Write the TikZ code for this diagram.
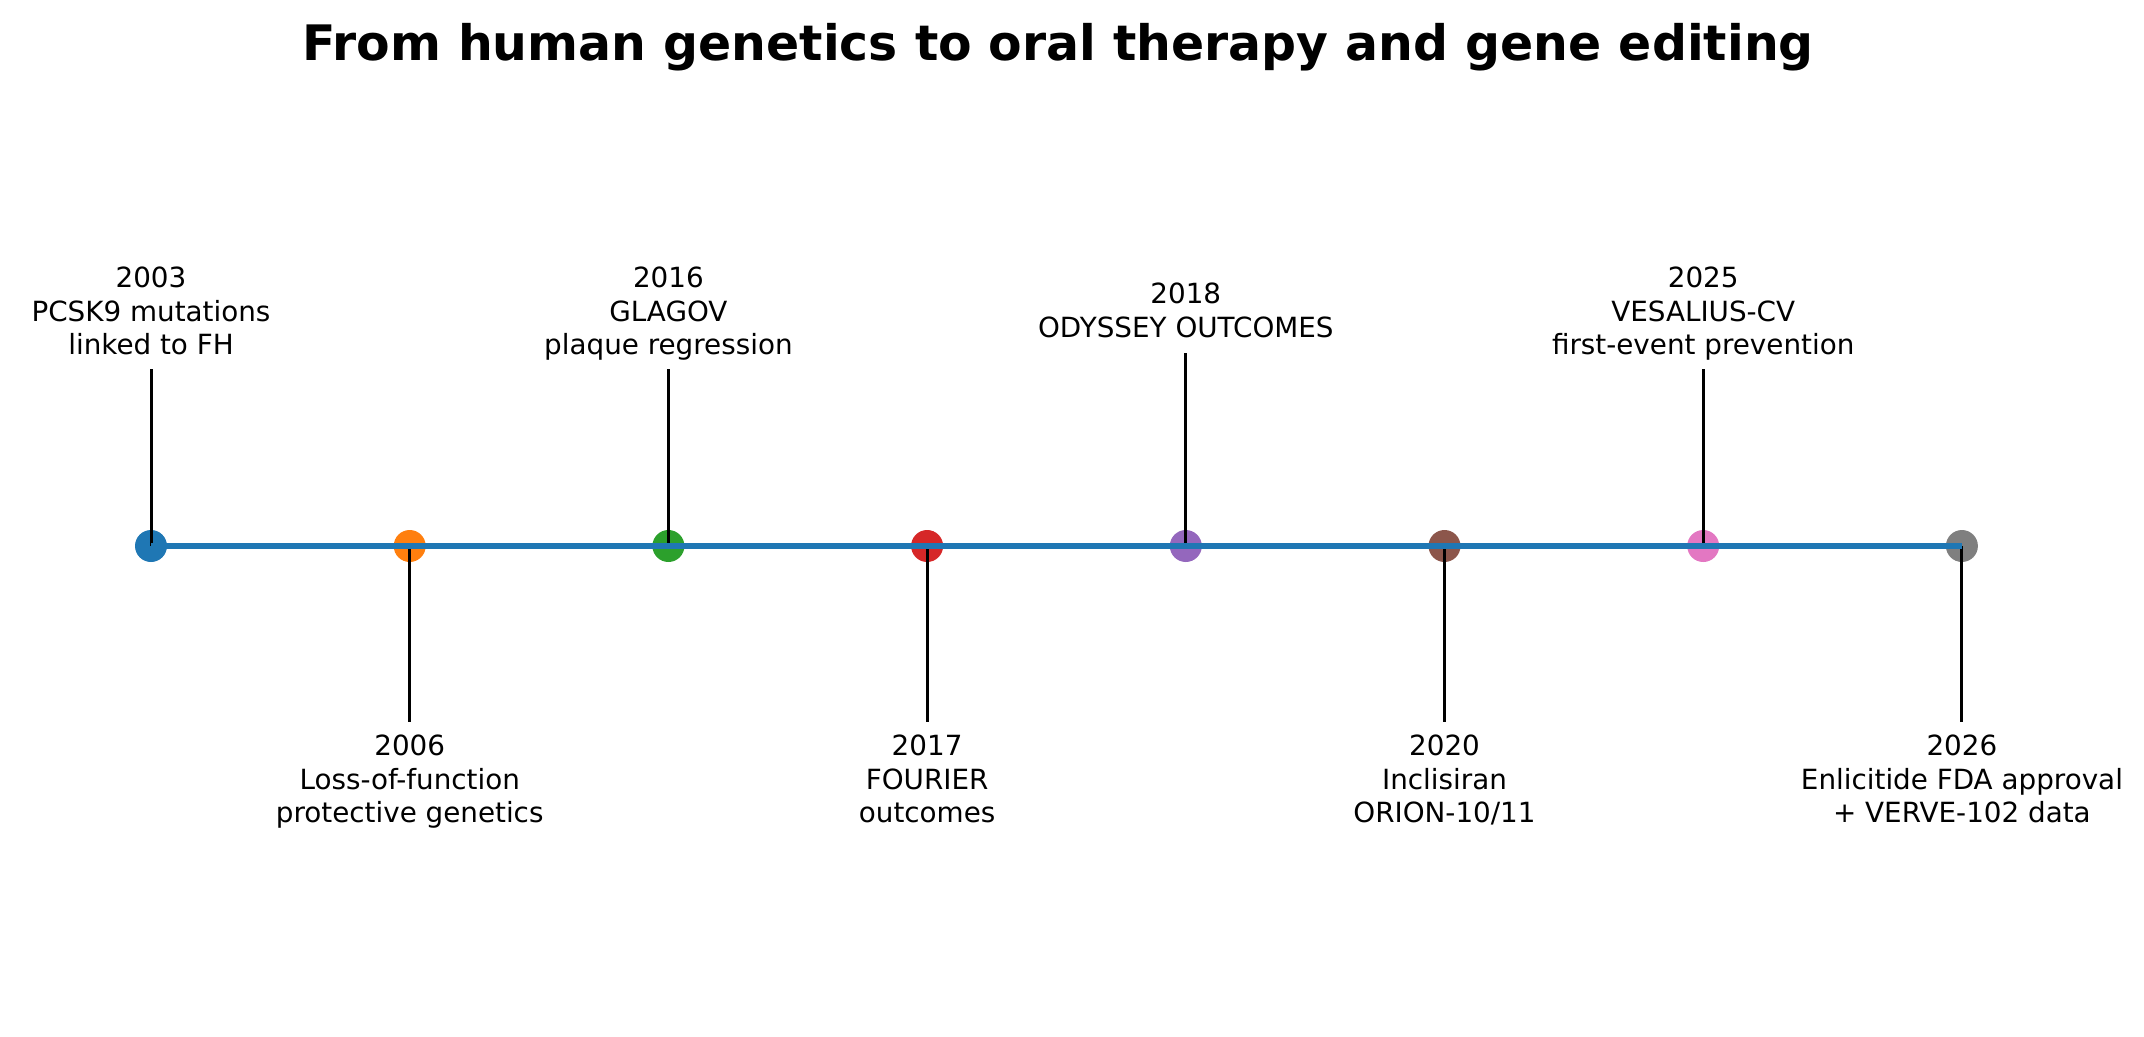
\documentclass[tikz,border=0pt]{standalone}
\usepackage{fontspec}
\setmainfont{DejaVu Sans}
\definecolor{c1}{HTML}{1F77B4}
\definecolor{c2}{HTML}{FF7F0E}
\definecolor{c3}{HTML}{2CA02C}
\definecolor{c4}{HTML}{D62728}
\definecolor{c5}{HTML}{9467BD}
\definecolor{c6}{HTML}{8C564B}
\definecolor{c7}{HTML}{E377C2}
\definecolor{c8}{HTML}{7F7F7F}
\begin{document}
\begin{tikzpicture}[x=1pt,y=-1pt,
  dot/.style={circle,inner sep=0pt,minimum size=32pt,fill=#1},
  stem/.style={line width=3pt,black},
  axisline/.style={line width=6pt,c1},
  evlabel/.style={inner sep=0pt,align=center,anchor=north,font=\fontsize{27.8}{33.4}\selectfont},
  titletext/.style={inner sep=0pt,anchor=base,font=\fontsize{48.9}{59}\selectfont\bfseries}]
\useasboundingbox (0,0) rectangle (2144,1036);
\node[titletext] (title) at (1058,60) {From human genetics to oral therapy and gene editing};
% dots
\node[dot=c1] (d1) at (151,546) {};
\node[dot=c2] (d2) at (409.7,546) {};
\node[dot=c3] (d3) at (668.4,546) {};
\node[dot=c4] (d4) at (927.1,546) {};
\node[dot=c5] (d5) at (1185.8,546) {};
\node[dot=c6] (d6) at (1444.5,546) {};
\node[dot=c7] (d7) at (1703.2,546) {};
\node[dot=c8] (d8) at (1961.9,546) {};
% stem ends
\coordinate (s1) at (151,369);
\coordinate (s2) at (409.7,722);
\coordinate (s3) at (668.4,369);
\coordinate (s4) at (927.1,722);
\coordinate (s5) at (1185.8,353);
\coordinate (s6) at (1444.5,722);
\coordinate (s7) at (1703.2,369);
\coordinate (s8) at (1961.9,722);
\foreach \i in {1,...,8}{\draw[stem] (d\i.center) -- (s\i);}
% timeline
\draw[axisline] (d1.center) -- (d8.center);
% labels
\node[evlabel] (l1) at (151,267) {2003\\PCSK9 mutations\\linked to FH};
\node[evlabel] (l2) at (409.7,735) {2006\\Loss-of-function\\protective genetics};
\node[evlabel] (l3) at (668.4,267) {2016\\GLAGOV\\plaque regression};
\node[evlabel] (l4) at (927.1,735) {2017\\FOURIER\\outcomes};
\node[evlabel] (l5) at (1185.8,283) {2018\\ODYSSEY OUTCOMES};
\node[evlabel] (l6) at (1444.5,735) {2020\\Inclisiran\\ORION-10/11};
\node[evlabel] (l7) at (1703.2,267) {2025\\VESALIUS-CV\\first-event prevention};
\node[evlabel] (l8) at (1961.9,735) {2026\\Enlicitide FDA approval\\+ VERVE-102 data};
\end{tikzpicture}
\end{document}
